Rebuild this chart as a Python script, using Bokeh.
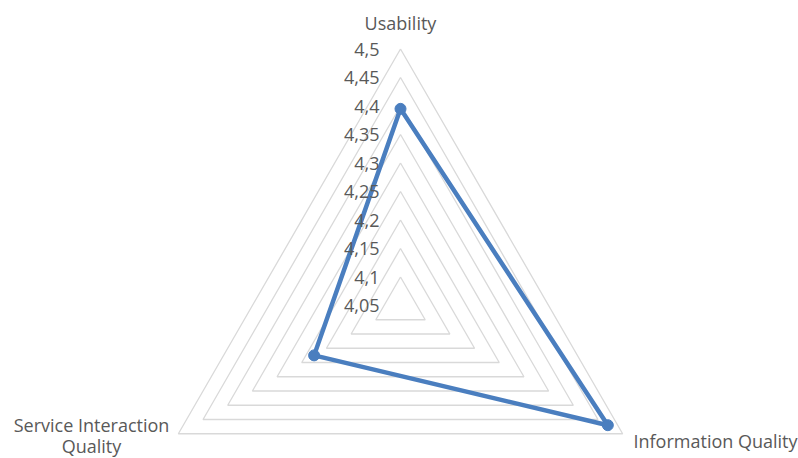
import numpy as np
from bokeh.plotting import figure
from bokeh.models import Range1d
from bokeh.core.properties import value
from bokeh.embed import file_html
from bokeh.resources import INLINE

# ---- data ----
categories = ["Usability", "Information Quality", "Service Interaction Quality"]
scores = [4.395, 4.47, 4.225]
tick_values = [4.05, 4.10, 4.15, 4.20, 4.25, 4.30, 4.35, 4.40, 4.45, 4.50]
tick_labels = ["4,05", "4,1", "4,15", "4,2", "4,25", "4,3", "4,35", "4,4", "4,45", "4,5"]
axis_min = 4.05
axis_max = 4.50

# ---- layout (screen pixels, y downward) ----
W, H = 798, 458
cx, cy = 400.0, 305.0
R = 256.5
angles = np.deg2rad([90.0, -30.0, 210.0])

def to_xy(val, ang):
    r = (val - axis_min) / (axis_max - axis_min) * R
    return cx + r * np.cos(ang), cy - r * np.sin(ang)

p = figure(width=W, height=H, output_backend="svg", toolbar_location=None,
           x_range=Range1d(0, W), y_range=Range1d(H, 0),
           min_border=0, outline_line_color=None)
p.axis.visible = False
p.grid.visible = False
p.background_fill_color = "white"

# rings
xs, ys = [], []
for t in tick_values[1:]:
    pts = [to_xy(t, a) for a in angles]
    pts.append(pts[0])
    xs.append([q[0] for q in pts])
    ys.append([q[1] for q in pts])
p.multi_line(xs, ys, line_color="#d9d9d9", line_width=1.3)

# series
sx, sy = [], []
for v, a in zip(scores, angles):
    x, y = to_xy(v, a)
    sx.append(x); sy.append(y)
p.line(sx + [sx[0]], sy + [sy[0]], line_color="#4a7ebf", line_width=4.5, line_join="round")
p.scatter(sx, sy, size=11, fill_color="#4a7ebf", line_color="#4a7ebf")

font = value("Open Sans")
txt_color = "#595959"

# tick labels
tx, ty = [], []
for t in tick_values:
    x, y = to_xy(t, angles[0])
    tx.append(379.0); ty.append(y)
p.text(tx, ty, text=tick_labels, text_font=font, text_font_size="18px",
       text_color=txt_color, text_align="right", text_baseline="middle")

# category labels
p.text([400], [22], text=[categories[0]], text_font=font, text_font_size="18px",
       text_color=txt_color, text_align="center", text_baseline="middle")
p.text([633], [440], text=[categories[1]], text_font=font, text_font_size="18px",
       text_color=txt_color, text_align="left", text_baseline="middle")
p.text([91, 91], [424, 445], text=["Service Interaction", "Quality"], text_font=font,
       text_font_size="18px", text_color=txt_color, text_align="center", text_baseline="middle")

open("out.html", "w").write(file_html(p, INLINE))
